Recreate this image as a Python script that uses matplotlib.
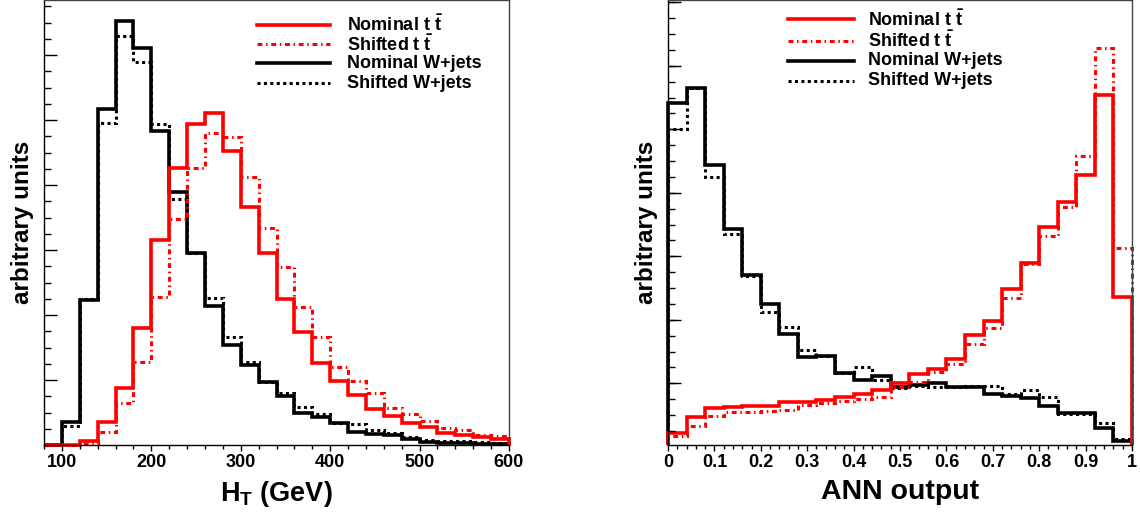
import numpy as np
import matplotlib
matplotlib.use("Agg")
import matplotlib.pyplot as plt
from matplotlib.ticker import FixedLocator, MultipleLocator, NullFormatter

plt.rcParams['font.family'] = ['Liberation Sans', 'DejaVu Sans']
plt.rcParams['font.weight'] = 'bold'
plt.rcParams['mathtext.fontset'] = 'custom'
plt.rcParams['mathtext.rm'] = 'Liberation Sans:bold'
plt.rcParams['mathtext.bf'] = 'Liberation Sans:bold'
plt.rcParams['mathtext.it'] = 'Liberation Sans:bold'

# H_T histograms (GeV), 20 GeV bins from 80 to 600
ht_edges = np.arange(80, 601, 20)
ht_nom_tt = [0, 0, 4, 23, 57, 117, 205, 277, 321, 332, 294, 238, 192, 146, 113, 82, 64, 50, 36, 29, 22, 18, 12, 10, 8, 6]
ht_shf_tt = [0, 0, 2, 13, 42, 83, 148, 226, 277, 312, 308, 268, 217, 178, 138, 108, 78, 64, 52, 37, 31, 24, 17, 15, 10, 9]
ht_nom_w = [0, 23, 145, 336, 424, 397, 314, 253, 192, 139, 100, 80, 63, 49, 32, 28, 22, 13, 11, 10, 6, 3, 2, 2, 1, 1]
ht_shf_w = [0, 19, 146, 322, 409, 383, 321, 246, 192, 147, 108, 83, 63, 52, 38, 31, 22, 21, 15, 12, 8, 5, 4, 4, 3, 2]

# ANN output histograms, 25 bins from 0 to 1
ann_edges = np.linspace(0, 1, 26)
ann_nom_tt = [12, 28, 37, 38, 39, 39, 43, 43, 45, 48, 51, 55, 62, 71, 76, 86, 110, 124, 156, 182, 218, 243, 270, 350, 148]
ann_shf_tt = [9, 19, 29, 33, 33, 34, 35, 40, 42, 44, 46, 48, 58, 63, 73, 81, 101, 117, 147, 181, 209, 238, 289, 397, 197]
ann_nom_w = [342, 357, 280, 216, 170, 141, 111, 88, 89, 72, 65, 69, 58, 60, 62, 58, 58, 51, 49, 47, 39, 32, 32, 17, 4]
ann_shf_w = [316, 357, 268, 211, 169, 133, 118, 95, 89, 72, 78, 65, 57, 59, 58, 58, 59, 59, 51, 55, 48, 31, 31, 22, 6]

labels = ["Nominal t $\\bar{\\mathbf{t}}$", "Shifted t $\\bar{\\mathbf{t}}$",
          "Nominal W+jets", "Shifted W+jets"]

RED = '#ff0000'
solid = dict(lw=2.6, linestyle='-')
dashdot = dict(lw=2.2, linestyle=(0, (1.6, 1.2, 0.5, 1.2)))
dotted = dict(lw=2.2, linestyle=(0, (1.0, 1.1)))
styles = [(RED, solid), (RED, dashdot), ('black', solid), ('black', dotted)]

fig = plt.figure(figsize=(11.4, 5.21), dpi=100)
ax1 = fig.add_axes([44 / 1140, 76 / 521, 465 / 1140, 445 / 521])
ax2 = fig.add_axes([668 / 1140, 76 / 521, 464 / 1140, 445 / 521])


def draw(ax, edges, series):
    # black first, red on top
    for idx in [2, 3, 0, 1]:
        col, st = styles[idx]
        ax.stairs(series[idx], edges, baseline=0, color=col, clip_on=False, **st)


def legend(ax, xl0, xl1, xt, ys):
    for (col, st), lab, y in zip(styles, labels, ys):
        ax.plot([xl0, xl1], [y, y], color=col, transform=ax.transAxes, **st)
        ax.text(xt, y, lab, transform=ax.transAxes, fontsize=13,
                fontweight='bold', va='center', ha='left')


def style_axes(ax, xmaj, xmin, ymaj, ymin):
    ax.set_ylim(0, 445)
    ax.xaxis.set_major_locator(MultipleLocator(xmaj))
    ax.xaxis.set_minor_locator(MultipleLocator(xmin))
    ax.yaxis.set_major_locator(FixedLocator(ymaj))
    ax.yaxis.set_minor_locator(FixedLocator(ymin))
    ax.yaxis.set_major_formatter(NullFormatter())
    ax.tick_params(axis='x', which='major', direction='out', length=4.5, width=1,
                   labelsize=13, pad=2)
    ax.tick_params(axis='x', which='minor', direction='out', length=2.8, width=1)
    ax.tick_params(axis='y', which='major', direction='in', length=9.4, width=1)
    ax.tick_params(axis='y', which='minor', direction='in', length=5, width=1)
    for lab in ax.get_xticklabels():
        lab.set_fontweight('bold')
    for s in ['top', 'right']:
        ax.spines[s].set_color('#444444')
        ax.spines[s].set_linewidth(1)
    for s in ['left', 'bottom']:
        ax.spines[s].set_linewidth(1)
    ax.set_ylabel('arbitrary units', fontsize=17.5, fontweight='bold', labelpad=4)


draw(ax1, ht_edges, [ht_nom_tt, ht_shf_tt, ht_nom_w, ht_shf_w])
ax1.set_xlim(80, 600)
style_axes(ax1, 100, 20, np.arange(65, 445, 65), np.arange(16.25, 445, 16.25))
ax1.set_xlabel('$\\mathbf{H_T}$ (GeV)', fontsize=19.5, fontweight='bold', labelpad=6)
legend(ax1, 0.458, 0.615, 0.652, [0.944, 0.901, 0.858, 0.813])

draw(ax2, ann_edges, [ann_nom_tt, ann_shf_tt, ann_nom_w, ann_shf_w])
ax2.set_xlim(0, 1)
style_axes(ax2, 0.1, 0.02, np.arange(61.7, 445, 63.5), np.arange(14.1, 445, 15.875))
ax2.xaxis.set_major_formatter(plt.FuncFormatter(lambda v, p: '%g' % round(v, 2)))
ax2.set_xlabel('ANN output', fontsize=20.5, fontweight='bold', labelpad=6)
legend(ax2, 0.259, 0.401, 0.430, [0.957, 0.908, 0.863, 0.818])

fig.savefig('out.png', dpi=100)
